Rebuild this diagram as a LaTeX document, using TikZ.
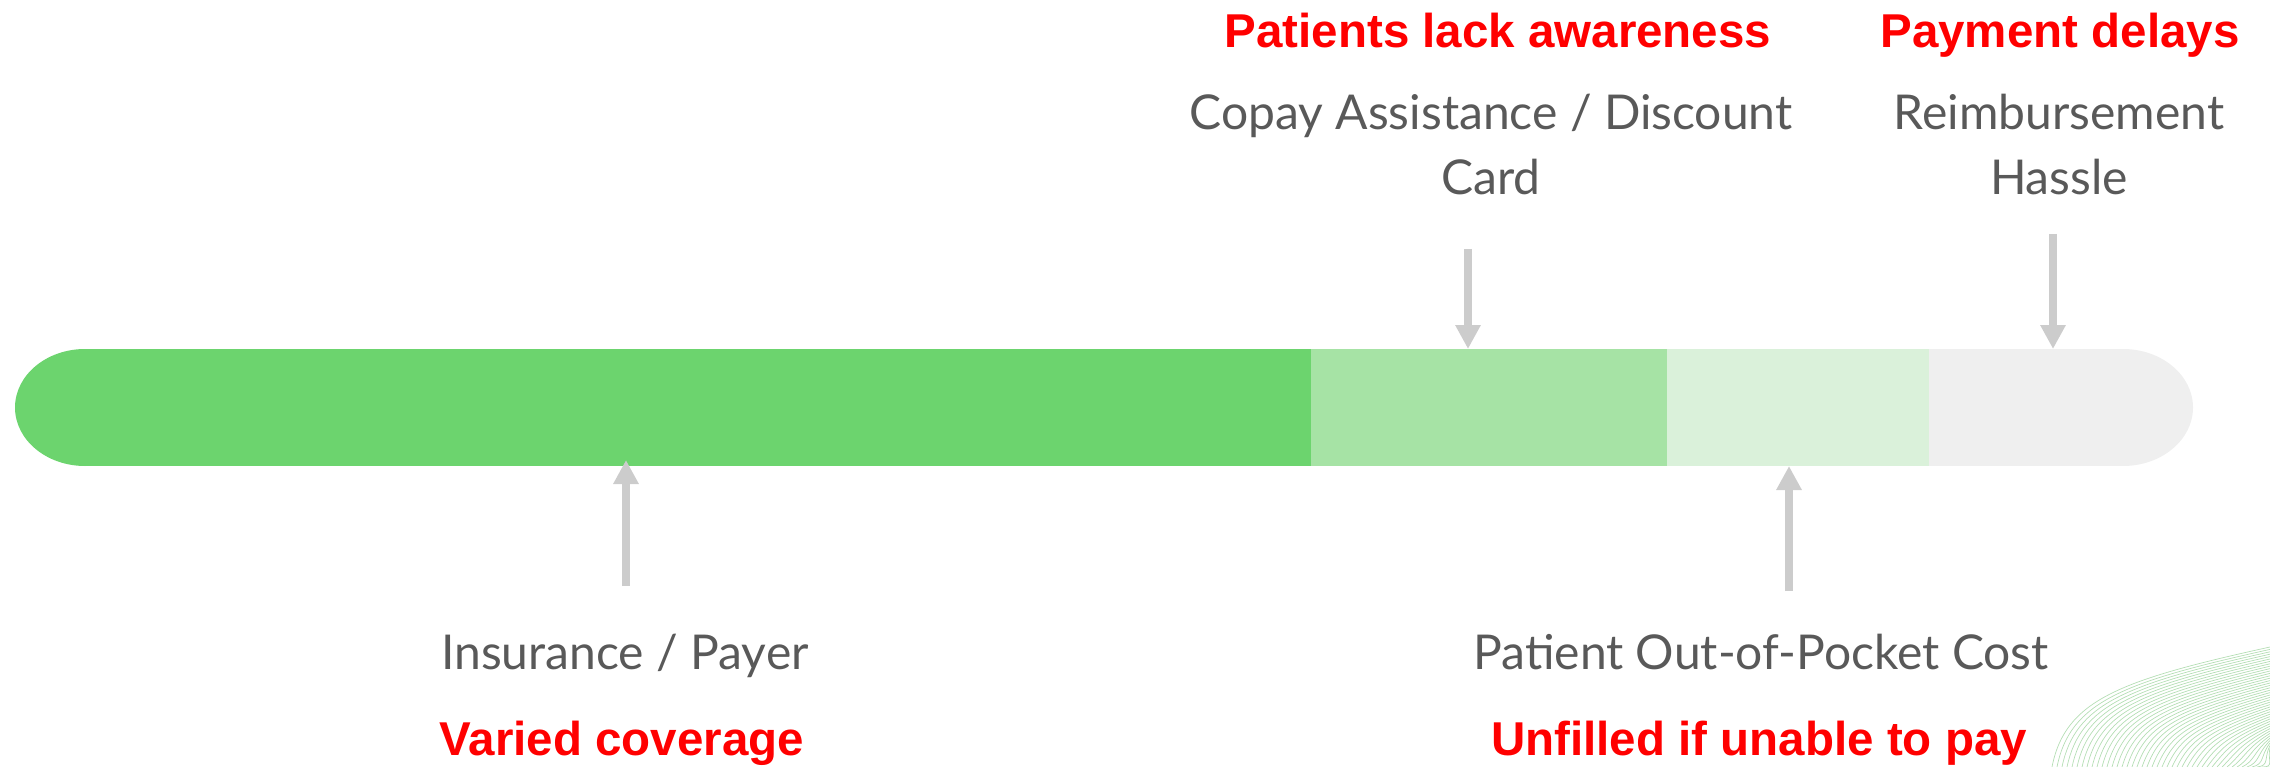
\documentclass[tikz,border=0pt]{standalone}
\usepackage{fontspec}
\setmainfont{Lato}
\newfontfamily\redfont{Liberation Sans}[BoldFont={Liberation Sans Bold}]
\usetikzlibrary{arrows.meta}
\definecolor{gA}{HTML}{6CD46E}
\definecolor{gB}{HTML}{A6E3A5}
\definecolor{gC}{HTML}{DAF1DA}
\definecolor{gD}{HTML}{EFEFEF}
\definecolor{arrowgray}{HTML}{CCCCCC}
\definecolor{txtgray}{HTML}{595959}
\definecolor{alertred}{HTML}{FF0000}
\definecolor{wave}{HTML}{B4DEB4}
\tikzset{
  lbl/.style={font=\fontsize{48}{65}\selectfont, text=txtgray, align=center, inner sep=0pt, anchor=base},
  alert/.style={font=\redfont\bfseries\fontsize{47.5}{56}\selectfont, text=alertred, inner sep=0pt, anchor=base},
  ptr/.style={draw=arrowgray, line width=8pt, -{Triangle[width=24pt,length=24pt]}}
}
\begin{document}
\begin{tikzpicture}[x=1pt,y=-1pt]
\useasboundingbox (0,0) rectangle (2270,767);
% decorative wave lines
\begin{scope}
\clip (0,0) rectangle (2270,767);
\foreach \i in {0,...,44}{
  \draw[wave, line width=0.7pt]
    ({2052+5*\i},767) .. controls ({2065+5*\i},{700+1.6*\i}) and ({2120+3.5*\i},{680+1.9*\i}) .. (2270,{647+2.4*\i});
}
\end{scope}
% bar
\fill[gA] (85,407.5) ellipse [x radius=70, y radius=58.5];
\fill[gD] (2123,407.5) ellipse [x radius=70, y radius=58.5];
\fill[gA] (85,349) rectangle (1311,466);
\fill[gB] (1311,349) rectangle (1667,466);
\fill[gC] (1667,349) rectangle (1929,466);
\fill[gD] (1929,349) rectangle (2123,466);
% labels
\node[alert] (pla) at (1498,48) {Patients lack awareness};
\node[lbl] (cad) at (1491,195) {Copay Assistance / Discount\\Card};
\node[alert] (pd) at (2060,48) {Payment delays};
\node[lbl] (rh) at (2059,195) {Reimbursement\\Hassle};
\node[lbl] (ip) at (625,669) {Insurance / Payer};
\node[alert] (vc) at (622,755) {Varied coverage};
\node[lbl] (pop) at (1761,669) {Patient Out-of-Pocket Cost};
\node[alert] (uf) at (1759,755) {Unfilled if unable to pay};
% arrow end points
\coordinate (a1s) at (1468,249);
\coordinate (a1e) at (1468,349);
\coordinate (a2s) at (2053,234);
\coordinate (a2e) at (2053,349);
\coordinate (a3s) at (626,586);
\coordinate (a3e) at (626,460);
\coordinate (a4s) at (1789,591);
\coordinate (a4e) at (1789,466);
\draw[ptr] (a1s) -- (a1e);
\draw[ptr] (a2s) -- (a2e);
\draw[ptr] (a3s) -- (a3e);
\draw[ptr] (a4s) -- (a4e);
\end{tikzpicture}
\end{document}
